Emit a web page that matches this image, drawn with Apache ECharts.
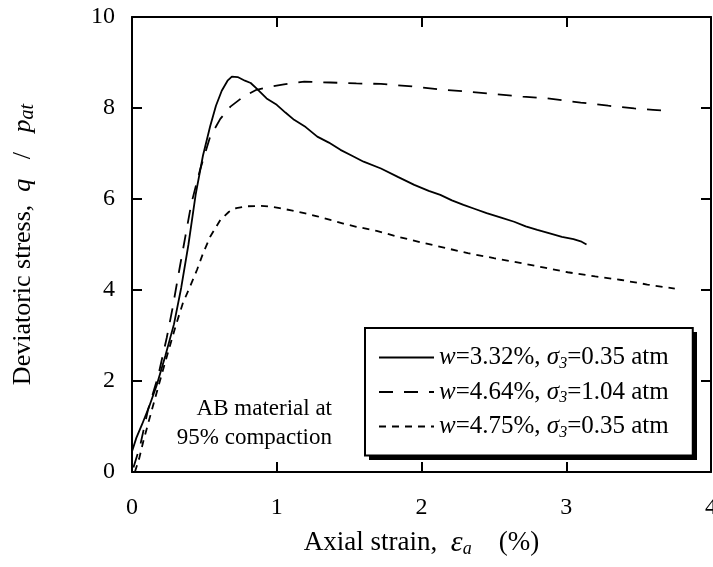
<!DOCTYPE html>
<html><head><meta charset="utf-8">
<script src="https://cdn.jsdelivr.net/npm/echarts@6/dist/echarts.min.js"></script>
<style>html,body{margin:0;padding:0;background:#fff}#c{width:713px;height:567px}</style>
</head><body><div id="c"></div>
<script>
const FONT = '"Liberation Serif","Times New Roman",Times,serif';

// axis ticks
const xTicks = [0, 1, 2, 3, 4];
const yTicks = [0, 2, 4, 6, 8, 10];

// series names (legend)
const seriesNames = ['w=3.32%, σ3=0.35 atm', 'w=4.64%, σ3=1.04 atm', 'w=4.75%, σ3=0.35 atm'];

// w=3.32%, sigma3=0.35 atm (solid)
const strainA = [0, 0.03, 0.07, 0.12, 0.17, 0.23, 0.29, 0.34, 0.39, 0.44, 0.49, 0.54, 0.58, 0.62, 0.66, 0.69, 0.73, 0.78, 0.82, 0.86, 0.93, 1.00, 1.06, 1.12, 1.20, 1.28, 1.36, 1.44, 1.52, 1.60, 1.72, 1.84, 1.95, 2.05, 2.13, 2.21, 2.29, 2.37, 2.45, 2.55, 2.64, 2.72, 2.80, 2.88, 2.97, 3.05, 3.10, 3.14];
const stressA = [0.45, 0.75, 1.05, 1.45, 1.90, 2.55, 3.25, 4.05, 5.00, 6.10, 6.95, 7.60, 8.05, 8.38, 8.60, 8.69, 8.68, 8.60, 8.55, 8.43, 8.21, 8.07, 7.90, 7.74, 7.58, 7.37, 7.24, 7.08, 6.95, 6.82, 6.67, 6.48, 6.31, 6.18, 6.09, 5.97, 5.87, 5.78, 5.69, 5.59, 5.50, 5.40, 5.32, 5.25, 5.17, 5.12, 5.07, 5.00];

// w=4.64%, sigma3=1.04 atm (long dash)
const strainB = [0.01, 0.055, 0.11, 0.18, 0.24, 0.28, 0.33, 0.37, 0.41, 0.47, 0.54, 0.61, 0.68, 0.77, 0.86, 0.96, 1.05, 1.19, 1.37, 1.55, 1.72, 1.95, 2.15, 2.32, 2.52, 2.70, 2.87, 3.10, 3.29, 3.47, 3.60, 3.72];
const stressB = [0.10, 0.56, 1.36, 2.10, 2.95, 3.60, 4.50, 5.20, 5.90, 6.64, 7.37, 7.76, 8.03, 8.25, 8.40, 8.47, 8.52, 8.58, 8.56, 8.54, 8.53, 8.47, 8.40, 8.36, 8.30, 8.25, 8.21, 8.12, 8.05, 7.99, 7.96, 7.93];

// w=4.75%, sigma3=0.35 atm (short dash)
const strainC = [0.02, 0.05, 0.08, 0.15, 0.22, 0.30, 0.35, 0.40, 0.45, 0.49, 0.54, 0.61, 0.67, 0.72, 0.80, 0.89, 0.96, 1.02, 1.10, 1.19, 1.28, 1.37, 1.46, 1.55, 1.69, 1.85, 2.02, 2.17, 2.32, 2.50, 2.69, 2.85, 3.01, 3.20, 3.38, 3.56, 3.75];
const stressC = [0.00, 0.30, 0.70, 1.51, 2.31, 3.19, 3.70, 4.07, 4.45, 4.80, 5.17, 5.54, 5.72, 5.80, 5.84, 5.85, 5.83, 5.80, 5.75, 5.69, 5.62, 5.54, 5.46, 5.39, 5.30, 5.16, 5.03, 4.92, 4.81, 4.70, 4.59, 4.49, 4.39, 4.30, 4.22, 4.12, 4.03];

// annotation lines
const noteLines = ['AB material at', '95% compaction'];

function zip(xs, ys) { return xs.map((x, i) => [x, ys[i]]); }

const richBase = (fs, lh, subScale) => ({
  r: { fontFamily: FONT, fontSize: fs, color: '#000', lineHeight: lh },
  i: { fontFamily: FONT, fontSize: fs, fontStyle: 'italic', color: '#000', lineHeight: lh },
  e: { fontFamily: FONT, fontSize: Math.round(fs * 1.12), fontStyle: 'italic', color: '#000', lineHeight: lh },
  s: { fontFamily: FONT, fontSize: Math.round(fs * (subScale || 0.65)), fontStyle: 'italic', color: '#000', lineHeight: Math.round(lh * 0.55), verticalAlign: 'bottom' }
});

function legendRich(name) {
  const m = name.match(/^w=([^,]+), σ3=(.+)$/);
  return '{i|w}{r|=' + m[1] + ', }{i|σ}{s|3}{r|=' + m[2] + '}';
}

const chart = echarts.init(document.getElementById('c'), null, { renderer: 'canvas' });

const axisLineStyle = { color: '#000', width: 2 };
const tickCommon = { show: true, inside: true, length: 10, lineStyle: { color: '#000', width: 2 } };

const option = {
  backgroundColor: '#fff',
  animation: false,
  grid: { left: 132, right: 2, top: 17, bottom: 95, containLabel: false, outerBoundsMode: 'none' },
  legend: {
    orient: 'vertical',
    left: 365, top: 328,
    itemWidth: 55, itemHeight: 12, itemGap: 8,
    padding: [17, 24, 15, 13],
    backgroundColor: '#fff',
    borderColor: '#000', borderWidth: 2,
    selectedMode: false,
    z: 6,
    itemStyle: { color: 'rgba(0,0,0,0)', borderColor: 'rgba(0,0,0,0)', borderWidth: 0, opacity: 0 },
    data: seriesNames,
    formatter: legendRich,
    textStyle: { fontFamily: FONT, fontSize: 25, color: '#000', rich: richBase(25, 28) }
  },
  xAxis: [{
    type: 'value', min: xTicks[0], max: xTicks[xTicks.length - 1], interval: xTicks[1] - xTicks[0],
    position: 'bottom',
    axisLine: { show: true, onZero: false, lineStyle: axisLineStyle },
    axisTick: tickCommon,
    axisLabel: { show: true, margin: 24, fontFamily: FONT, fontSize: 24, color: '#000', showMaxLabel: true, showMinLabel: true },
    splitLine: { show: false },
    name: '{r|Axial strain,  }{e|ε}{s|a}{r|    (%)}',
    nameLocation: 'middle', nameGap: 56,
    nameTextStyle: { rich: richBase(27, 30) }
  }, {
    type: 'value', min: xTicks[0], max: xTicks[xTicks.length - 1], interval: xTicks[1] - xTicks[0],
    position: 'top',
    axisLine: { show: true, onZero: false, lineStyle: axisLineStyle },
    axisTick: tickCommon,
    axisLabel: { show: false },
    splitLine: { show: false }
  }],
  yAxis: [{
    type: 'value', min: yTicks[0], max: yTicks[yTicks.length - 1], interval: yTicks[1] - yTicks[0],
    position: 'left',
    axisLine: { show: true, onZero: false, lineStyle: axisLineStyle },
    axisTick: tickCommon,
    axisLabel: { show: true, margin: 17, fontFamily: FONT, fontSize: 24, color: '#000' },
    splitLine: { show: false },
    name: '{r|Deviatoric stress,  }{i|q}{r|   /   }{i|p}{s|at}',
    nameLocation: 'middle', nameGap: 94,
    nameTextStyle: { rich: richBase(26, 30, 0.75) }
  }, {
    type: 'value', min: yTicks[0], max: yTicks[yTicks.length - 1], interval: yTicks[1] - yTicks[0],
    position: 'right',
    axisLine: { show: true, onZero: false, lineStyle: axisLineStyle },
    axisTick: tickCommon,
    axisLabel: { show: false },
    splitLine: { show: false }
  }],
  series: [
    { name: seriesNames[0], type: 'line', data: zip(strainA, stressA), symbol: 'none', smooth: false,
      lineStyle: { color: '#000', width: 1.8, type: 'solid' }, itemStyle: { color: '#000' }, z: 3 },
    { name: seriesNames[1], type: 'line', data: zip(strainB, stressB), symbol: 'none', smooth: false,
      lineStyle: { color: '#000', width: 1.8, type: [14, 11] }, itemStyle: { color: '#000' }, z: 3 },
    { name: seriesNames[2], type: 'line', data: zip(strainC, stressC), symbol: 'none', smooth: false,
      lineStyle: { color: '#000', width: 1.8, type: [7, 6] }, itemStyle: { color: '#000' }, z: 3 }
  ],
  graphic: [{
    type: 'rect', z: 5,
    shape: { x: 369, y: 332, width: 328, height: 128 },
    style: { fill: '#000' }
  }, {
    type: 'text',
    x: 332, y: 423.5, z: 10,
    style: {
      text: noteLines.join('\n'),
      font: '23px ' + FONT,
      fill: '#000',
      align: 'right', verticalAlign: 'middle',
      textAlign: 'right', textVerticalAlign: 'middle',
      lineHeight: 29
    }
  }]
};
chart.setOption(option);
</script>
</body></html>
